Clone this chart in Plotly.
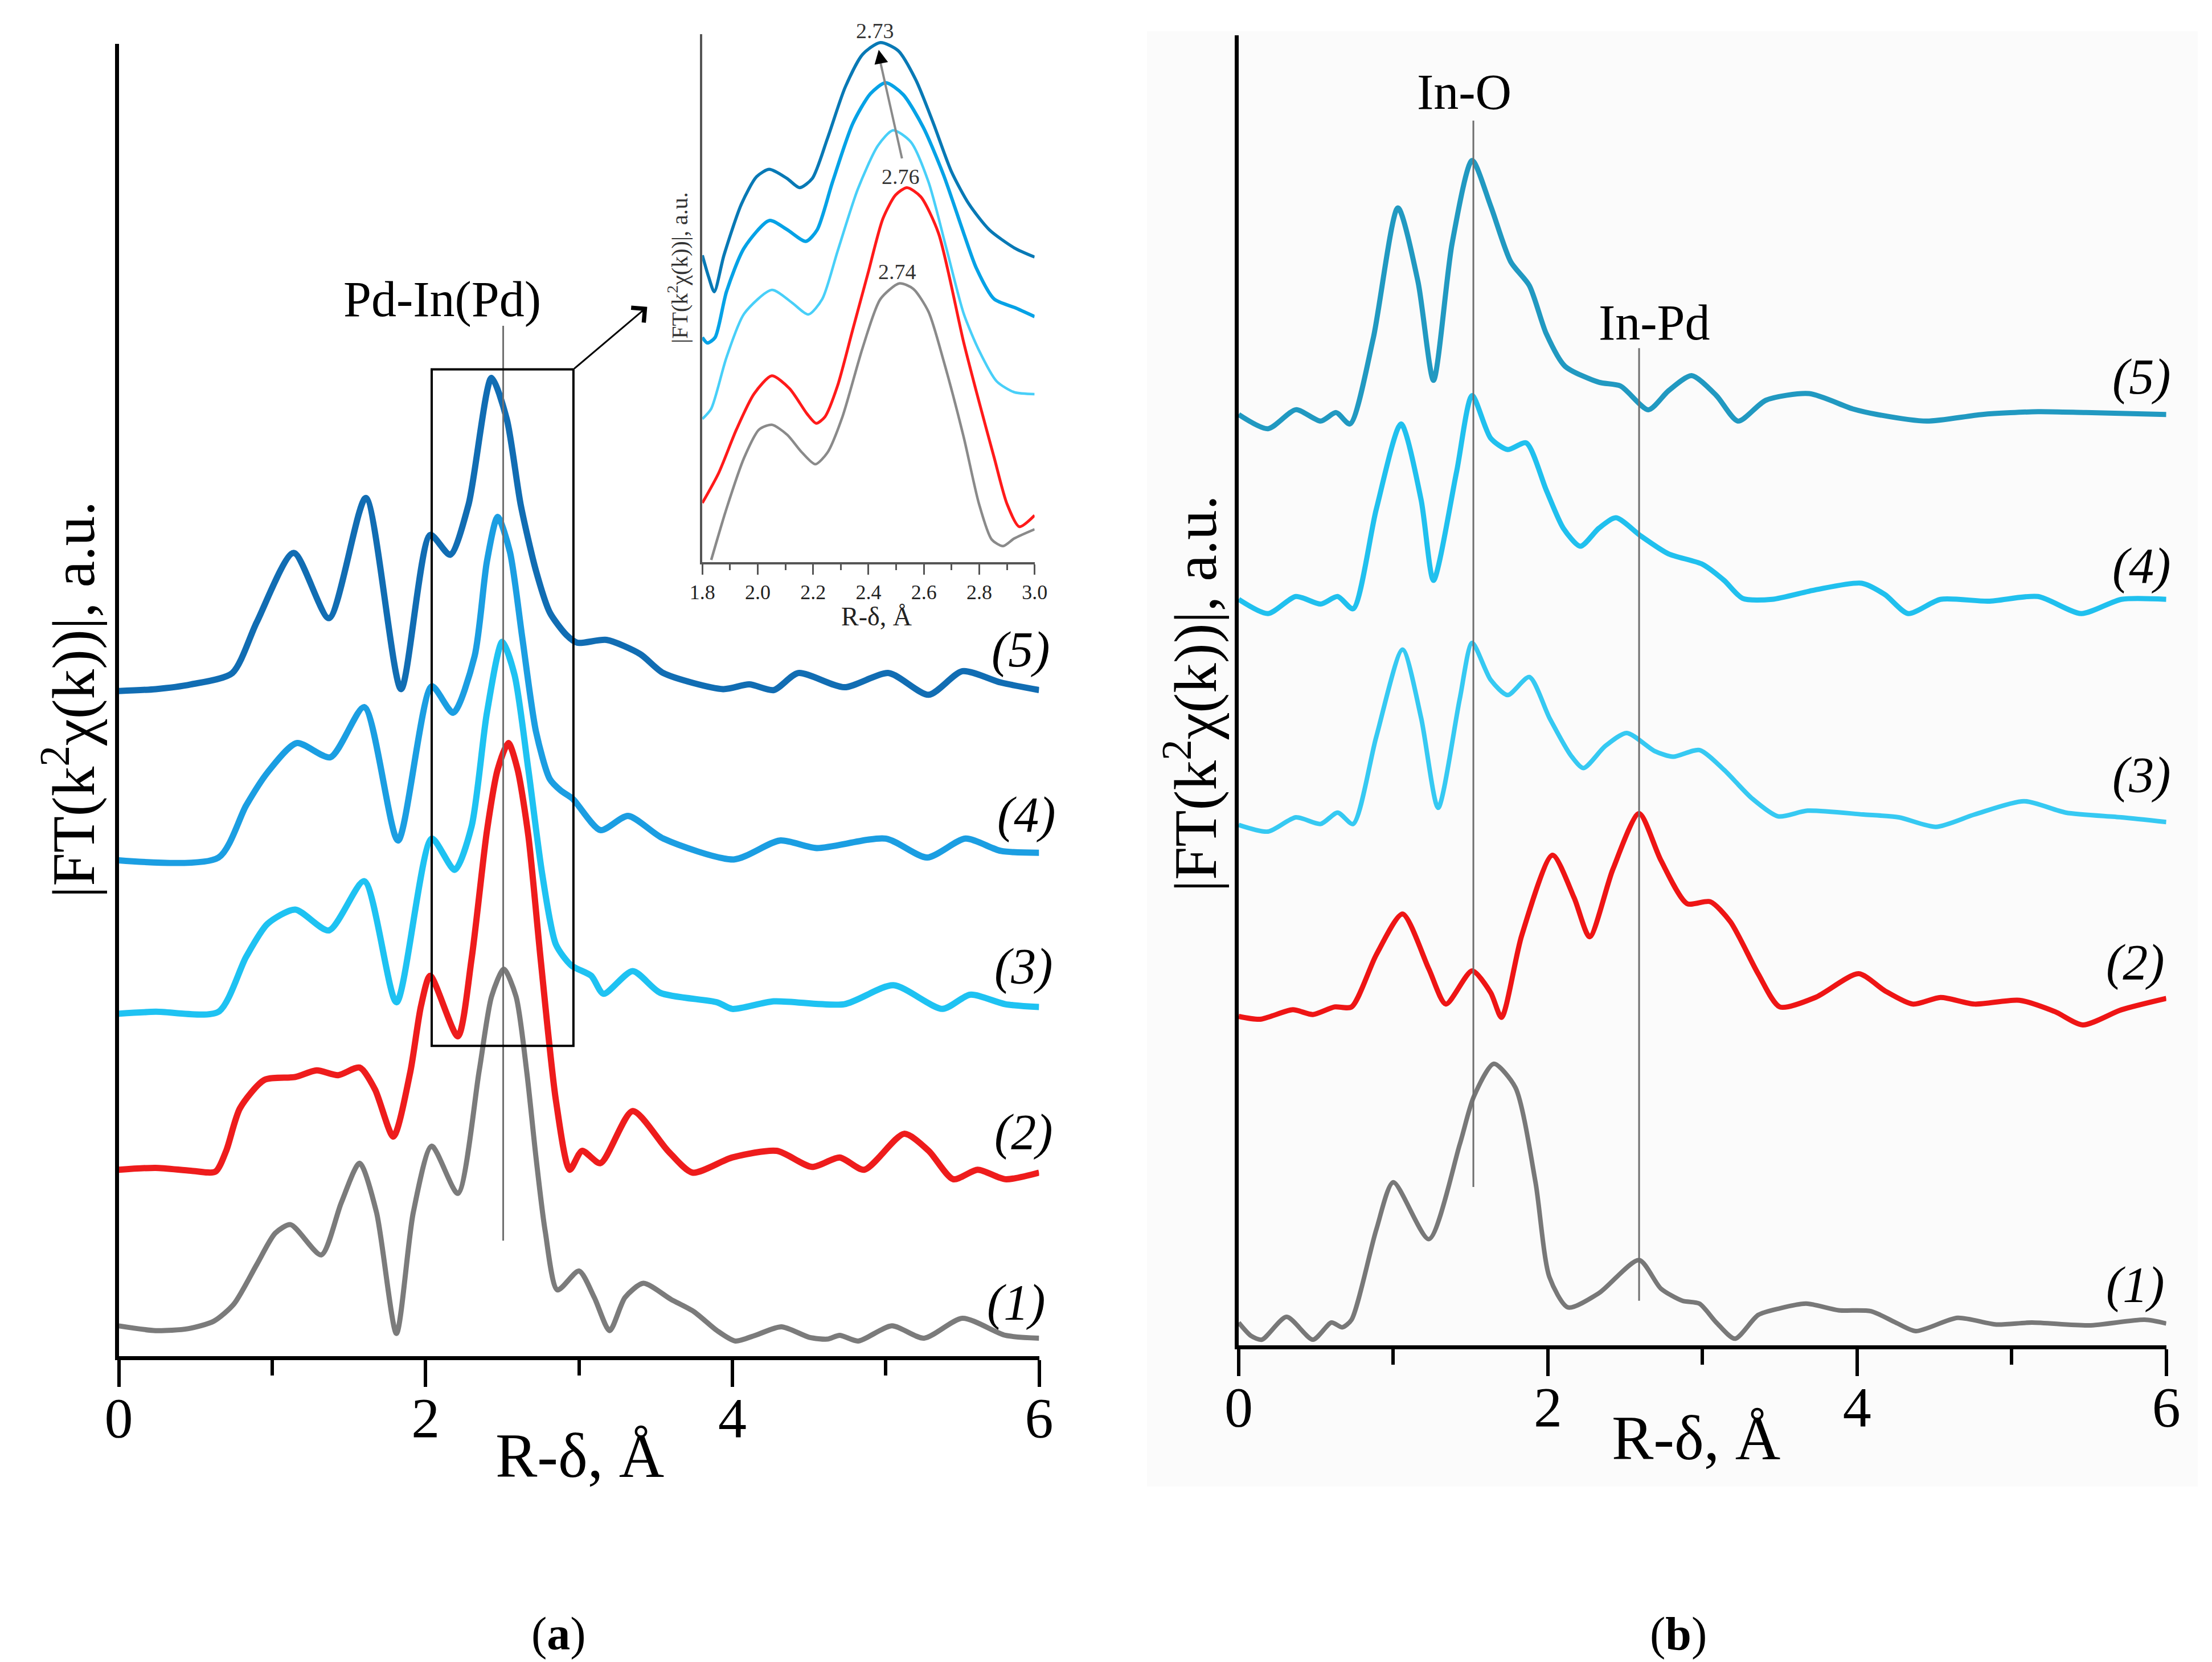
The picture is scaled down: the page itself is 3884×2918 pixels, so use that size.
import plotly.graph_objects as go

# ---- panel (a): Pd K-edge FT, offsets are already included in the values ----
a1_r = [0.00, 0.24, 0.45, 0.62, 0.75, 0.90, 1.02, 1.12, 1.32, 1.45, 1.57, 1.68, 1.81, 1.92, 2.04, 2.21,
        2.35, 2.43, 2.51, 2.59, 2.66, 2.72, 2.78, 2.86, 3.00, 3.10, 3.20, 3.30, 3.42, 3.60, 3.75, 3.90,
        4.02, 4.15, 4.32, 4.50, 4.62, 4.70, 4.82, 5.04, 5.25, 5.50, 5.78, 6.00]
a1_ft = [0.32, 0.27, 0.29, 0.37, 0.55, 0.97, 1.30, 1.39, 1.07, 1.62, 2.04, 1.52, 0.24, 1.52, 2.22, 1.72,
         3.02, 3.80, 4.09, 3.80, 3.00, 2.10, 1.32, 0.70, 0.90, 0.62, 0.27, 0.62, 0.77, 0.60, 0.47, 0.27,
         0.16, 0.22, 0.31, 0.20, 0.18, 0.22, 0.16, 0.32, 0.19, 0.40, 0.22, 0.19]

a2_r = [0.00, 0.24, 0.47, 0.63, 0.70, 0.79, 0.95, 1.15, 1.29, 1.43, 1.57, 1.67, 1.79, 1.90, 1.97, 2.03,
        2.21, 2.30, 2.40, 2.47, 2.54, 2.60, 2.67, 2.75, 2.85, 2.94, 3.02, 3.14, 3.35, 3.58, 3.74, 4.00,
        4.29, 4.52, 4.70, 4.86, 5.12, 5.28, 5.44, 5.60, 5.78, 6.00]
a2_ft = [1.97, 1.99, 1.96, 1.95, 2.17, 2.62, 2.92, 2.95, 3.02, 2.97, 3.05, 2.82, 2.32, 3.00, 3.70, 4.02,
         3.38, 4.20, 5.55, 6.20, 6.48, 6.20, 5.50, 4.20, 2.70, 1.97, 2.17, 2.04, 2.59, 2.17, 1.94, 2.10,
         2.17, 2.00, 2.10, 1.97, 2.35, 2.17, 1.87, 1.97, 1.87, 1.94]

a3_r = [0.00, 0.24, 0.65, 0.83, 0.97, 1.15, 1.37, 1.60, 1.81, 2.04, 2.19, 2.30, 2.40, 2.50, 2.58, 2.67,
        2.76, 2.85, 2.95, 3.08, 3.16, 3.35, 3.53, 3.90, 4.00, 4.27, 4.73, 5.05, 5.37, 5.55, 5.78, 6.00]
a3_ft = [3.62, 3.64, 3.64, 4.22, 4.57, 4.72, 4.50, 5.02, 3.74, 5.47, 5.14, 5.60, 6.80, 7.55, 7.20, 6.20,
         5.10, 4.35, 4.13, 4.02, 3.83, 4.07, 3.84, 3.74, 3.67, 3.75, 3.72, 3.92, 3.67, 3.82, 3.72, 3.69]

a4_r = [0.00, 0.65, 0.83, 0.97, 1.16, 1.38, 1.60, 1.82, 2.04, 2.18, 2.32, 2.40, 2.47, 2.55, 2.63, 2.72,
        2.81, 2.88, 2.96, 3.14, 3.32, 3.55, 4.01, 4.31, 4.55, 5.00, 5.27, 5.52, 5.75, 6.00]
a4_ft = [5.24, 5.27, 5.82, 6.17, 6.48, 6.33, 6.86, 5.45, 7.08, 6.80, 7.40, 8.40, 8.87, 8.50, 7.60, 6.60,
         6.10, 5.98, 5.89, 5.56, 5.71, 5.47, 5.25, 5.45, 5.37, 5.47, 5.27, 5.47, 5.34, 5.32]

a5_r = [0.00, 0.24, 0.47, 0.74, 0.90, 1.14, 1.37, 1.61, 1.84, 2.03, 2.16, 2.28, 2.43, 2.53, 2.62, 2.72,
        2.81, 2.92, 2.99, 3.18, 3.40, 3.55, 3.94, 4.11, 4.27, 4.43, 4.73, 5.02, 5.28, 5.50, 5.75, 6.00]
a5_ft = [7.03, 7.05, 7.10, 7.22, 7.76, 8.49, 7.80, 9.07, 7.05, 8.68, 8.47, 9.00, 10.34, 9.90, 9.00, 8.30,
         7.86, 7.62, 7.54, 7.57, 7.42, 7.22, 7.05, 7.10, 7.04, 7.22, 7.07, 7.22, 6.99, 7.24, 7.12, 7.04]

# ---- inset of (a): zoom 1.8 - 3.0 A ----
i1_r = [1.832, 1.887, 1.951, 2.005, 2.051, 2.106, 2.160, 2.208, 2.252, 2.306, 2.379, 2.443, 2.512, 2.562,
        2.617, 2.671, 2.744, 2.799, 2.845, 2.886, 2.927, 3.000]
i1_ft = [0.06, 1.46, 2.86, 3.63, 3.76, 3.49, 3.00, 2.68, 3.00, 3.98, 5.87, 7.20, 7.63, 7.48,
         6.85, 5.52, 3.42, 1.60, 0.62, 0.44, 0.65, 0.90]

i2_r = [1.800, 1.859, 1.923, 1.987, 2.051, 2.115, 2.179, 2.211, 2.243, 2.288, 2.343, 2.398, 2.452, 2.498,
        2.539, 2.589, 2.653, 2.744, 2.799, 2.854, 2.900, 2.945, 3.000]
i2_ft = [1.62, 2.44, 3.63, 4.61, 5.10, 4.75, 4.05, 3.80, 3.98, 4.82, 6.36, 7.90, 9.40, 10.05,
         10.25, 10.00, 9.00, 6.01, 4.40, 2.86, 1.60, 0.97, 1.28]

i3_r = [1.800, 1.832, 1.887, 1.951, 2.051, 2.124, 2.183, 2.233, 2.288, 2.361, 2.434, 2.489, 2.553, 2.617,
        2.681, 2.744, 2.799, 2.863, 2.927, 3.000]
i3_ft = [3.92, 4.20, 5.60, 6.80, 7.45, 7.10, 6.78, 7.20, 8.50, 10.20, 11.40, 11.82, 11.50, 10.40,
         8.60, 6.80, 5.80, 4.95, 4.65, 4.60]

i4_r = [1.800, 1.818, 1.846, 1.887, 1.951, 2.042, 2.106, 2.174, 2.215, 2.270, 2.343, 2.407, 2.462, 2.525,
        2.598, 2.671, 2.744, 2.790, 2.854, 2.927, 3.000]
i4_ft = [6.15, 6.00, 6.15, 7.40, 8.60, 9.35, 9.10, 8.78, 9.10, 10.40, 12.00, 12.82, 13.12, 12.80,
         11.90, 10.60, 9.00, 8.04, 7.20, 6.97, 6.72]

i5_r = [1.800, 1.823, 1.843, 1.878, 1.941, 1.996, 2.042, 2.106, 2.151, 2.197, 2.252, 2.316, 2.379, 2.443,
        2.507, 2.571, 2.635, 2.699, 2.763, 2.836, 2.927, 3.000]
i5_ft = [8.40, 7.80, 7.40, 8.40, 9.80, 10.55, 10.75, 10.50, 10.25, 10.50, 11.60, 13.00, 13.90, 14.22,
         14.00, 13.20, 12.00, 10.70, 9.80, 9.10, 8.60, 8.35]

# ---- panel (b): In K-edge FT ----
b1_r = [0.00, 0.08, 0.15, 0.31, 0.48, 0.60, 0.67, 0.73, 0.89, 1.00, 1.23, 1.43, 1.52, 1.65, 1.79, 1.92,
        2.01, 2.13, 2.33, 2.59, 2.73, 2.87, 2.98, 3.09, 3.21, 3.36, 3.50, 3.67, 3.88, 4.09, 4.25, 4.38,
        4.65, 4.90, 5.13, 5.50, 5.86, 6.00]
b1_ft = [0.24, 0.10, 0.06, 0.30, 0.06, 0.24, 0.19, 0.27, 1.22, 1.72, 1.12, 2.12, 2.62, 2.97, 2.72, 1.72,
         0.72, 0.40, 0.55, 0.90, 0.60, 0.47, 0.44, 0.24, 0.07, 0.32, 0.39, 0.44, 0.37, 0.36, 0.24, 0.15,
         0.29, 0.22, 0.24, 0.21, 0.27, 0.23]

b2_r = [0.00, 0.14, 0.35, 0.48, 0.62, 0.73, 0.89, 1.06, 1.23, 1.34, 1.51, 1.63, 1.70, 1.83, 2.03, 2.17,
        2.27, 2.42, 2.59, 2.73, 2.90, 3.05, 3.18, 3.36, 3.50, 3.73, 4.01, 4.18, 4.36, 4.54, 4.76, 5.05,
        5.28, 5.46, 5.71, 6.00]
b2_ft = [3.47, 3.44, 3.54, 3.49, 3.57, 3.57, 4.12, 4.55, 3.97, 3.60, 3.95, 3.72, 3.46, 4.32, 5.17, 4.72,
         4.31, 5.02, 5.61, 5.12, 4.66, 4.68, 4.47, 3.92, 3.57, 3.67, 3.92, 3.74, 3.60, 3.67, 3.60, 3.64,
         3.52, 3.38, 3.54, 3.66]

b3_r = [0.00, 0.19, 0.37, 0.53, 0.64, 0.74, 0.89, 1.06, 1.18, 1.29, 1.43, 1.51, 1.63, 1.74, 1.88, 2.01,
        2.15, 2.23, 2.37, 2.51, 2.69, 2.81, 2.98, 3.14, 3.32, 3.49, 3.68, 4.04, 4.27, 4.51, 4.76, 5.08,
        5.35, 5.71, 6.00]
b3_ft = [5.49, 5.42, 5.57, 5.50, 5.62, 5.50, 6.42, 7.34, 6.62, 5.67, 6.82, 7.41, 7.02, 6.86, 7.05, 6.62,
         6.22, 6.09, 6.32, 6.46, 6.27, 6.21, 6.28, 6.07, 5.77, 5.58, 5.64, 5.60, 5.57, 5.47, 5.60, 5.74,
         5.62, 5.57, 5.52]

b4_r = [0.00, 0.19, 0.37, 0.53, 0.64, 0.74, 0.89, 1.05, 1.18, 1.26, 1.41, 1.51, 1.63, 1.74, 1.86, 1.99,
        2.10, 2.21, 2.33, 2.44, 2.60, 2.78, 3.00, 3.14, 3.26, 3.45, 3.73, 4.03, 4.18, 4.33, 4.54, 4.85,
        5.17, 5.45, 5.71, 6.00]
b4_ft = [7.87, 7.72, 7.90, 7.82, 7.90, 7.77, 8.82, 9.72, 8.92, 8.07, 9.22, 10.02, 9.57, 9.45, 9.52, 9.02,
         8.62, 8.43, 8.62, 8.73, 8.54, 8.35, 8.24, 8.07, 7.88, 7.87, 7.97, 8.04, 7.92, 7.72, 7.87, 7.85,
         7.90, 7.72, 7.87, 7.87]

b5_r = [0.00, 0.19, 0.37, 0.53, 0.63, 0.72, 0.87, 1.03, 1.16, 1.26, 1.38, 1.51, 1.63, 1.76, 1.88, 1.99,
        2.11, 2.33, 2.47, 2.65, 2.78, 2.93, 3.09, 3.23, 3.41, 3.69, 3.97, 4.13, 4.45, 4.81, 5.17, 5.48,
        6.00]
b5_ft = [9.82, 9.67, 9.87, 9.75, 9.84, 9.72, 10.62, 12.00, 11.22, 10.18, 11.62, 12.50, 12.02, 11.43,
         11.18, 10.67, 10.33, 10.16, 10.12, 9.87, 10.07, 10.23, 10.02, 9.75, 9.97, 10.04, 9.88, 9.82,
         9.75, 9.82, 9.85, 9.84, 9.82]

serif = "Liberation Serif"
W, H = 3884, 2918

a_cols = ["#7b7b7b", "#ee1c1c", "#1ec2f2", "#1b9ee2", "#116db3"]
i_cols = ["#8a8a8a", "#ff1a1a", "#48cff8", "#05a2e6", "#0879b5"]
b_cols = ["#787878", "#ee1515", "#36c9f2", "#20c0ee", "#2199c1"]

fig = go.Figure()

def add_set(rs, fts, cols, widths, xa, ya):
    for r, ft, c, w in zip(rs, fts, cols, widths):
        fig.add_trace(go.Scatter(x=r, y=ft, mode="lines", xaxis=xa, yaxis=ya,
                                 line=dict(color=c, width=w, shape="spline", smoothing=0.7),
                                 showlegend=False, hoverinfo="skip"))

add_set([a1_r, a2_r, a3_r, a4_r, a5_r], [a1_ft, a2_ft, a3_ft, a4_ft, a5_ft], a_cols,
        [9, 11, 11, 11, 11], "x", "y")
add_set([i1_r, i2_r, i3_r, i4_r, i5_r], [i1_ft, i2_ft, i3_ft, i4_ft, i5_ft], i_cols,
        [4.5, 5, 4.5, 6, 5.5], "x2", "y2")
add_set([b1_r, b2_r, b3_r, b4_r, b5_r], [b1_ft, b2_ft, b3_ft, b4_ft, b5_ft], b_cols,
        [8, 9, 8, 9, 9], "x3", "y3")

main_x = dict(range=[0, 6], dtick=2, tick0=0, showline=True, linewidth=7, linecolor="black",
              ticks="outside", ticklen=47, tickwidth=6, tickcolor="black", ticklabelstandoff=-32,
              minor=dict(dtick=1, ticks="outside", ticklen=27, tickwidth=6, tickcolor="black"),
              showgrid=False, zeroline=False, tickfont=dict(family=serif, size=100, color="black"))
main_y = dict(showline=True, linewidth=7, linecolor="black", ticks="", showticklabels=False,
              showgrid=False, zeroline=False)

fig.update_layout(
    width=W, height=H, margin=dict(l=0, r=0, t=0, b=0),
    paper_bgcolor="white", plot_bgcolor="rgba(0,0,0,0)",
    xaxis=dict(main_x, domain=[186 / W, 1823 / W], anchor="y"),
    yaxis=dict(main_y, domain=[1 - 2381 / H, 1 - 77 / H], range=[0, 13.87], anchor="x"),
    xaxis3=dict(main_x, domain=[2178 / W, 3828 / W], anchor="y3"),
    yaxis3=dict(main_y, domain=[1 - 2362 / H, 1 - 62 / H], range=[0, 13.82], anchor="x3"),
    xaxis2=dict(range=[1.8, 3.0], dtick=0.2, tick0=1.8, tickformat=".1f", showline=True,
                linewidth=4, linecolor="#555", ticks="outside", ticklen=18, tickwidth=3,
                tickcolor="#555",
                minor=dict(dtick=0.1, ticks="outside", ticklen=10, tickwidth=3, tickcolor="#555"),
                showgrid=False, zeroline=False, domain=[1224 / W, 1815 / W], anchor="y2",
                tickfont=dict(family=serif, size=36, color="#222")),
    yaxis2=dict(showline=True, linewidth=4, linecolor="#555", ticks="", showticklabels=False,
                showgrid=False, zeroline=False, range=[0, 14.45],
                domain=[1 - 987 / H, 1 - 60 / H], anchor="x2"),
)

# faint scanned background of panel (b)
fig.add_shape(type="rect", xref="paper", yref="paper", x0=2015 / W, x1=1, y0=1 - 2610 / H,
              y1=1 - 55 / H, fillcolor="#fbfbfb", line_width=0, layer="below")

# panel (a) guide line, zoom box and arrow
fig.add_shape(type="line", xref="x", yref="y", x0=2.506, x1=2.506, y0=1.22, y1=10.89,
              line=dict(color="#6e6e6e", width=3))
fig.add_shape(type="rect", xref="x", yref="y", x0=2.04, x1=2.964, y0=3.28, y1=10.43,
              line=dict(color="black", width=4))
fig.add_annotation(xref="x", yref="y", axref="x", ayref="y", x=3.445, y=11.09, ax=2.964, ay=10.43,
                   text="", showarrow=True, arrowhead=4, arrowsize=2.2, arrowwidth=3,
                   arrowcolor="black")

# panel (b) guide lines
fig.add_shape(type="line", xref="x3", yref="y3", x0=1.518, x1=1.518, y0=1.67, y1=12.92,
              line=dict(color="#6e6e6e", width=3))
fig.add_shape(type="line", xref="x3", yref="y3", x0=2.59, x1=2.59, y0=0.47, y1=10.52,
              line=dict(color="#6e6e6e", width=3))

# inset shift arrow (grey shaft, black head)
fig.add_shape(type="line", xref="x2", yref="y2", x0=2.521, y0=11.05, x1=2.441, y1=13.75,
              line=dict(color="#8a8a8a", width=4))
fig.add_annotation(xref="x2", yref="y2", axref="x2", ayref="y2", x=2.437, y=14.02, ax=2.445,
                   ay=13.7, text="", showarrow=True, arrowhead=2, arrowsize=1.6, arrowwidth=3,
                   arrowcolor="black")

def txt(x, y, s, size, xref, yref, color="black", angle=0, xanchor="center"):
    fig.add_annotation(x=x, y=y, xref=xref, yref=yref, text=s, showarrow=False,
                       textangle=angle, xanchor=xanchor, yanchor="middle",
                       font=dict(family=serif, size=size, color=color))

txt(2.107, 11.17, "Pd-In(Pd)", 88, "x", "y")
txt(1.46, 13.22, "In-O", 88, "x3", "y3")
txt(2.69, 10.79, "In-Pd", 88, "x3", "y3")

for lx, ly, lab in [(5.88, 7.47, "(5)"), (5.92, 5.72, "(4)"), (5.90, 4.12, "(3)"),
                    (5.90, 2.37, "(2)"), (5.85, 0.57, "(1)")]:
    txt(lx, ly, "<i>" + lab + "</i>", 88, "x", "y")
for lx, ly, lab in [(5.84, 10.22, "(5)"), (5.84, 8.22, "(4)"), (5.84, 6.02, "(3)"),
                    (5.80, 4.04, "(2)"), (5.80, 0.64, "(1)")]:
    txt(lx, ly, "<i>" + lab + "</i>", 88, "x3", "y3")

txt(1531 / W, 1 - 54 / H, "2.73", 38, "paper", "paper", color="#333")
txt(2.516, 10.55, "2.76", 38, "x2", "y2", color="#333")
txt(2.503, 7.95, "2.74", 38, "x2", "y2", color="#333")

ytitle = "|FT(k<sup>2</sup>χ(k))|, a.u."
txt(98 / W, 1 - 1228 / H, ytitle, 105, "paper", "paper", angle=-90)
txt(2094 / W, 1 - 1218 / H, ytitle, 105, "paper", "paper", angle=-90)
txt(1180 / W, 1 - 470 / H, ytitle, 40, "paper", "paper", color="#333", angle=-90)

txt(1006 / W, 1 - 2556 / H, "R-δ, Å", 110, "paper", "paper")
txt(2992 / W, 1 - 2525 / H, "R-δ, Å", 110, "paper", "paper")
txt(1534 / W, 1 - 1082 / H, "R-δ, Å", 46, "paper", "paper", color="#222")

txt(968 / W, 1 - 2868 / H, "(<b>a</b>)", 82, "paper", "paper")
txt(2960 / W, 1 - 2868 / H, "(<b>b</b>)", 82, "paper", "paper")

fig.write_html("out.html", config={"displayModeBar": False},
               post_script="document.body.style.margin='0';document.body.style.overflow='hidden';")
